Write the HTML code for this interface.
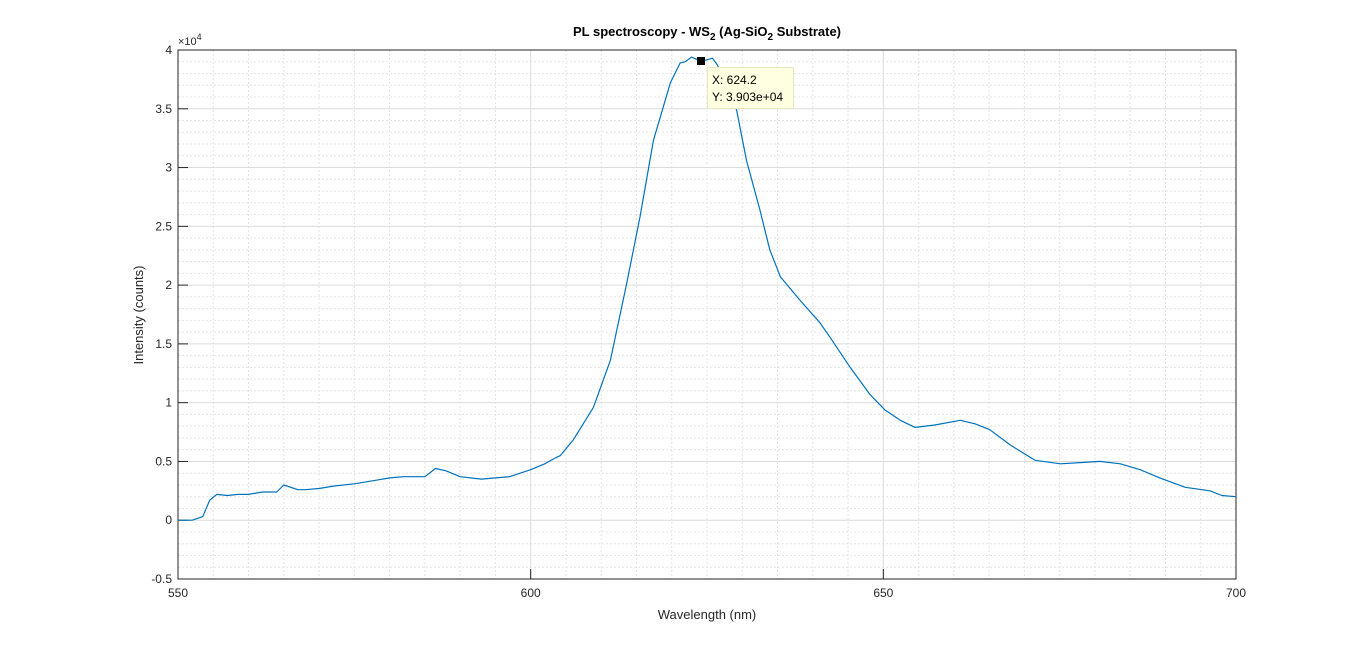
<!DOCTYPE html>
<html><head><meta charset="utf-8"><style>
body{margin:0;background:#fff;font-family:"Liberation Sans",sans-serif}
</style></head><body>
<svg width="1366" height="651" id="c" font-family="Liberation Sans, sans-serif">
<rect x="0" y="0" width="1366" height="651" fill="#fff"/>
</svg>
<script>
const wavelengths=[550,552,553.5,554.5,555.5,557,558.5,560,562,564,565,567,568,570,572,575,578,580,582,585,586.5,588,590,593,595,597,600,602,603.5,604.2,606.0,608.9,611.3,613.6,615.5,617.4,619.8,621.2,621.9,622.8,624.2,625.8,626.5,629.2,630.6,632.5,633.9,635.4,638.2,641.0,642.4,645.3,648.1,650.2,652.4,654.5,657.3,660.9,663.0,665.1,668.0,671.5,675.1,677.9,680.7,683.6,686.4,689.2,692.8,696.3,698.0,700];
const intensity=[0,0,0.03,0.17,0.22,0.21,0.22,0.22,0.24,0.24,0.30,0.26,0.26,0.27,0.29,0.31,0.34,0.36,0.37,0.37,0.44,0.42,0.37,0.35,0.36,0.37,0.43,0.48,0.53,0.55,0.68,0.96,1.36,2.01,2.58,3.23,3.72,3.89,3.90,3.94,3.903,3.93,3.87,3.49,3.06,2.64,2.30,2.07,1.87,1.68,1.56,1.30,1.07,0.94,0.85,0.79,0.81,0.85,0.82,0.77,0.64,0.51,0.48,0.49,0.5,0.48,0.43,0.36,0.28,0.25,0.21,0.2];
const xTicks=[550,600,650,700];
const yTicks=[-0.5,0,0.5,1,1.5,2,2.5,3,3.5,4];
const yTickLabels=["-0.5","0","0.5","1","1.5","2","2.5","3","3.5","4"];
const L=178,R=1236,T=50,B=579;
const sx=v=>L+(v-550)/150*(R-L);
const sy=v=>B-(v+0.5)/4.5*(B-T);
const svg=document.getElementById('c');const NS='http://www.w3.org/2000/svg';
function mk(t,a,p){const e=document.createElementNS(NS,t);for(const k in a)e.setAttribute(k,a[k]);(p||svg).appendChild(e);return e;}
let e=mk('rect',{x:L,y:T,width:R-L,height:B-T,fill:'#fff'});

for(let v=555;v<700;v+=5){if(v%50===0)continue;e=mk('line',{x1:sx(v),x2:sx(v),y1:T,y2:B,stroke:'#e4e4e4','stroke-dasharray':'2,2'});
}
for(let i=-4;i<40;i++){const v=i/10;if(i%5===0)continue;e=mk('line',{x1:L,x2:R,y1:sy(v),y2:sy(v),stroke:'#e4e4e4','stroke-dasharray':'2,2'});
}
xTicks.forEach(v=>{e=mk('line',{x1:sx(v),x2:sx(v),y1:T,y2:B,stroke:'#dcdcdc'});

mk('line',{x1:sx(v),x2:sx(v),y1:B,y2:B-10,stroke:'#262626'});
e=mk('text',{x:sx(v),y:B+18,'text-anchor':'middle','font-size':12,fill:'#262626'});e.textContent=v;
});
yTicks.forEach((v,i)=>{e=mk('line',{x1:L,x2:R,y1:sy(v),y2:sy(v),stroke:'#dcdcdc'});

mk('line',{x1:L,x2:L+10,y1:sy(v),y2:sy(v),stroke:'#262626'});
e=mk('text',{x:L-6,y:sy(v)+4,'text-anchor':'end','font-size':12,fill:'#262626'});e.textContent=yTickLabels[i];
});
e=mk('rect',{x:L,y:T,width:R-L,height:B-T,fill:'none',stroke:'#262626'});

let d=wavelengths.map((w,i)=>(i?'L':'M')+sx(w).toFixed(1)+','+sy(intensity[i]).toFixed(1)).join('');
e=mk('path',{d:d,fill:'none',stroke:'#0072bd','stroke-width':1.2,'stroke-linejoin':'round'});

e=mk('text',{x:L,y:T-5,'font-size':11,fill:'#262626'});e.innerHTML='×10<tspan dy="-5" font-size="9">4</tspan>';

e=mk('text',{x:707,y:36,'text-anchor':'middle','font-size':13,'font-weight':'bold',fill:'#000'});
e.innerHTML='PL spectroscopy - WS<tspan dy="4" font-size="10">2</tspan><tspan dy="-4"> (Ag-SiO</tspan><tspan dy="4" font-size="10">2</tspan><tspan dy="-4"> Substrate)</tspan>';

e=mk('text',{x:707,y:619,'text-anchor':'middle','font-size':13,fill:'#262626'});e.textContent='Wavelength (nm)';

e=mk('text',{x:143,y:315,'text-anchor':'middle','font-size':13,fill:'#262626',transform:'rotate(-90 143 315)'});e.textContent='Intensity (counts)';

const g=mk('g',{});

mk('rect',{x:697,y:57,width:8,height:8,fill:'#000'},g);
mk('rect',{x:707.5,y:67.5,width:86,height:41,fill:'#ffffe1',stroke:'#e8e8c0'},g);
mk('text',{x:712,y:84,'font-size':12,fill:'#000'},g).textContent='X: 624.2';
mk('text',{x:712,y:101,'font-size':12,fill:'#000'},g).textContent='Y: 3.903e+04';
</script>
</body></html>
